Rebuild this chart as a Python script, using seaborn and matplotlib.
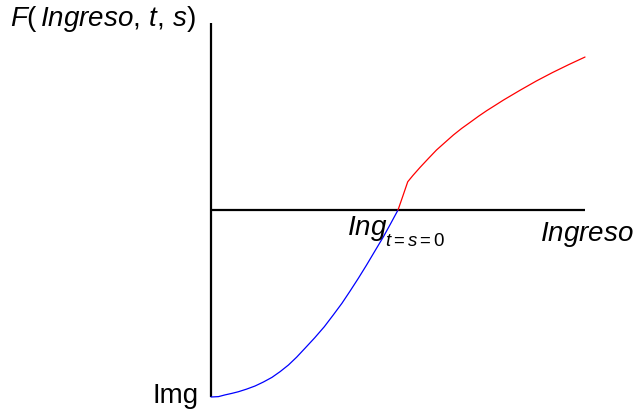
import matplotlib
matplotlib.use("Agg")
import matplotlib.pyplot as plt
import seaborn as sns
import pandas as pd

# Values (x: income share, y: F value)
blue_x = [0.0, 0.02, 0.037, 0.055, 0.073, 0.095, 0.118, 0.14, 0.163, 0.185, 0.207, 0.229,
          0.251, 0.277, 0.303, 0.327, 0.35, 0.372, 0.394, 0.416, 0.438, 0.461, 0.48, 0.5]
blue_y = [-1.0, -0.998, -0.989, -0.981, -0.972, -0.958, -0.941, -0.920, -0.895, -0.864, -0.829, -0.787,
          -0.740, -0.684, -0.624, -0.561, -0.499, -0.433, -0.365, -0.294, -0.220, -0.143, -0.074, 0.0]
red_x = [0.5, 0.513, 0.526, 0.540, 0.559, 0.581, 0.603, 0.626, 0.648, 0.670, 0.693, 0.715,
         0.737, 0.760, 0.782, 0.826, 0.870, 0.913, 0.957, 1.0]
red_y = [0.0, 0.075, 0.151, 0.185, 0.228, 0.275, 0.321, 0.362, 0.401, 0.436, 0.469, 0.501,
         0.531, 0.560, 0.588, 0.640, 0.690, 0.735, 0.778, 0.818]

label_f = r"$F(\,Ingreso,\,t,\,s)$"
label_x = r"$Ingreso$"
label_zero = r"$Ing$"
label_zero_sub = r"$t=s=0$"
label_min = "Img"

sns.set_theme(style="white")
plt.rcParams["font.family"] = ["Liberation Sans", "DejaVu Sans"]
plt.rcParams["mathtext.fontset"] = "custom"
plt.rcParams["mathtext.rm"] = "Liberation Sans"
plt.rcParams["mathtext.it"] = "Liberation Sans:italic"
plt.rcParams["mathtext.bf"] = "Liberation Sans:bold"
plt.rcParams["text.color"] = "black"

fig = plt.figure(figsize=(6.37, 4.11), dpi=100)
ax = fig.add_axes([0, 0, 1, 1])

# axes lines
ax.plot([0, 0], [-1, 1], color="black", lw=1.6, solid_capstyle="butt", zorder=1)
ax.plot([0, 1], [0, 0], color="black", lw=1.6, solid_capstyle="butt", zorder=1)

df_b = pd.DataFrame({"x": blue_x, "y": blue_y})
df_r = pd.DataFrame({"x": red_x, "y": red_y})
sns.lineplot(data=df_b, x="x", y="y", color="blue", lw=0.9, ax=ax, sort=False, zorder=3)
sns.lineplot(data=df_r, x="x", y="y", color="red", lw=0.9, ax=ax, sort=False, zorder=3)
ax.set_xlim(-0.5642, 1.139)
ax.set_ylim(-1.0749, 1.123)
ax.axis("off")

fs = 20
ax.text(-0.537, 0.984, label_f, ha="left", va="baseline", fontsize=fs, color="black")
ax.text(0.880, -0.166, label_x, ha="left", va="baseline", fontsize=fs, color="black")
ax.text(0.364, -0.134, label_zero, ha="left", va="baseline", fontsize=fs, color="black")
ax.text(0.465, -0.193, label_zero_sub, ha="left", va="baseline", fontsize=13.4, color="black")
ax.text(-0.032, -1.032, label_min, ha="right", va="baseline", fontsize=fs, color="black")

fig.savefig("out.png", dpi=100)
